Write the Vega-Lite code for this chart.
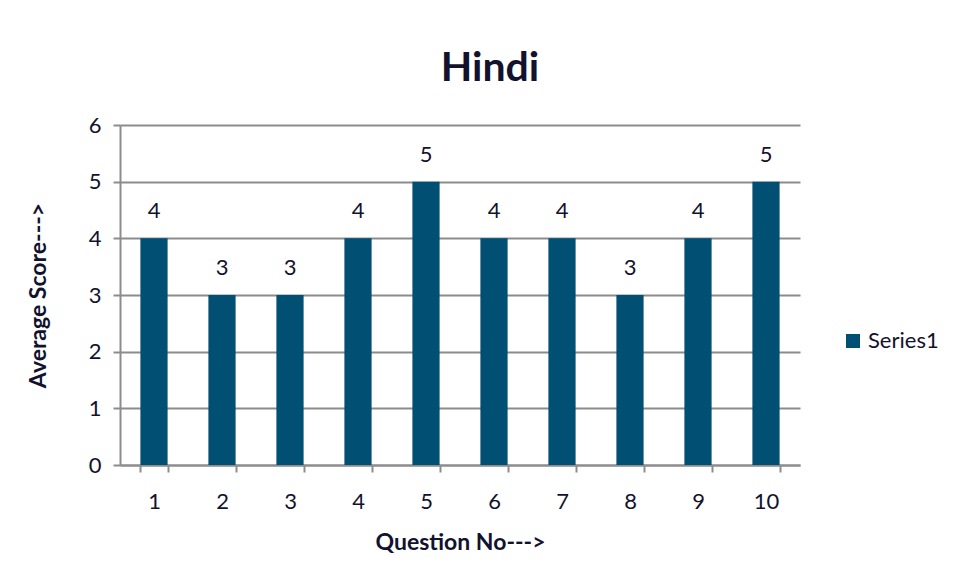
{
  "$schema": "https://vega.github.io/schema/vega-lite/v6.json",
  "width": 680,
  "height": 340,
  "autosize": "none",
  "padding": {"left": 120, "top": 125, "right": 159, "bottom": 118},
  "background": "white",
  "title": {"text": "Hindi", "fontSize": 41, "fontWeight": "bold", "font": "Lato", "color": "#12122e", "offset": 24, "dx": 30},
  "config": {
    "view": {"stroke": null},
    "font": "Lato",
    "text": {"font": "Lato"}
  },
  "data": {"values": [
    {"q": "1", "score": 4},
    {"q": "2", "score": 3},
    {"q": "3", "score": 3},
    {"q": "4", "score": 4},
    {"q": "5", "score": 5},
    {"q": "6", "score": 4},
    {"q": "7", "score": 4},
    {"q": "8", "score": 3},
    {"q": "9", "score": 4},
    {"q": "10", "score": 5}
  ]},
  "encoding": {
    "x": {
      "field": "q", "type": "ordinal", "sort": null,
      "scale": {"paddingInner": 0.6, "paddingOuter": 0.3},
      "axis": {
        "title": "Question No--->", "titleFont": "Lato", "titleFontSize": 23, "titleFontWeight": "bold", "titleColor": "#12122e", "titlePadding": 19,
        "labelAngle": 0, "labelFont": "Lato", "labelFontSize": 22, "labelColor": "#12122e", "labelPadding": 19,
        "tickBand": "extent", "tickSize": 7, "tickColor": "#8c8c8c", "tickWidth": 2,
        "domainColor": "#8c8c8c", "domainWidth": 2, "grid": false
      }
    },
    "y": {
      "field": "score", "type": "quantitative",
      "scale": {"domain": [0, 6]},
      "axis": {
        "title": "Average Score--->", "titleFont": "Lato", "titleFontSize": 23, "titleFontWeight": "bold", "titleColor": "#12122e", "titlePadding": 38,
        "labelFont": "Lato", "labelFontSize": 22, "labelColor": "#12122e", "labelPadding": 12,
        "tickCount": 6, "tickSize": 7, "tickColor": "#8c8c8c", "tickWidth": 2,
        "domainColor": "#8c8c8c", "domainWidth": 2,
        "grid": true, "gridColor": "#8c8c8c", "gridWidth": 2
      }
    }
  },
  "layer": [
    {
      "mark": {"type": "bar"},
      "encoding": {
        "color": {
          "datum": "Series1", "type": "nominal",
          "scale": {"range": ["#014f73"]},
          "legend": {"title": null, "orient": "none", "legendX": 722, "legendY": 205, "symbolType": "square", "symbolSize": 196, "symbolStrokeWidth": 0, "labelFont": "Lato", "labelFontSize": 22, "labelColor": "#12122e", "labelOffset": 4}
        }
      }
    },
    {
      "mark": {"type": "text", "dy": -27, "font": "Lato", "fontSize": 22, "color": "#12122e"},
      "encoding": {"text": {"field": "score", "type": "quantitative"}}
    }
  ]
}
